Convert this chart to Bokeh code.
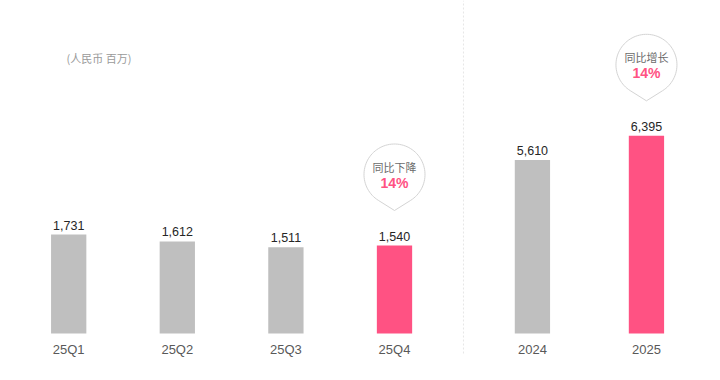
import numpy as np
from bokeh.plotting import figure
from bokeh.models import Range1d, Label
from bokeh.core.properties import value
from bokeh.embed import file_html
from bokeh.resources import INLINE

# ---------------- data ----------------
quarters = ["25Q1", "25Q2", "25Q3", "25Q4"]
quarter_values = [1731, 1612, 1511, 1540]
years = ["2024", "2025"]
year_values = [5610, 6395]
highlight = ["25Q4", "2025"]
callout_titles = {"25Q4": "同比下降", "2025": "同比增长"}
callout_values = {"25Q4": "14%", "2025": "14%"}
unit_label = "(人民币 百万)"

# ---------------- style / layout ----------------
GRAY = "#bfbfbf"
PINK = "#ff5283"
W, H = 704, 364
PX_X = 108.6          # pixels per x unit
X0 = -0.628           # left edge of x range
QY = 17.5             # quarter values per pixel
AY = 32.35            # annual values per pixel
BASE = 31             # pixels from bottom of frame to bar base
BAR_W = 0.325
NUM_FONT = value("Liberation Sans")
CJK_FONT = value("Noto Sans CJK SC")

p = figure(width=W, height=H, output_backend="svg", toolbar_location=None,
           x_range=Range1d(X0, X0 + W / PX_X),
           y_range=Range1d(-BASE * QY, (H - BASE) * QY),
           x_axis_type=None, y_axis_type=None, min_border=0)
p.extra_y_ranges = {"annual": Range1d(-BASE * AY, (H - BASE) * AY)}
p.outline_line_color = None
p.background_fill_color = "white"
p.border_fill_color = "white"
p.grid.visible = False

q_x = list(range(len(quarters)))
a_x = [4.27, 5.32]

def colors(cats):
    return [PINK if c in highlight else GRAY for c in cats]

# bars
p.vbar(x=q_x, top=quarter_values, bottom=0, width=BAR_W, color=colors(quarters), line_color=None)
p.vbar(x=a_x, top=year_values, bottom=0, width=BAR_W, color=colors(years), line_color=None,
       y_range_name="annual")

# value labels
p.text(x=q_x, y=quarter_values, text=[f"{v:,}" for v in quarter_values],
       text_align="center", text_baseline="bottom", y_offset=-5,
       text_font=NUM_FONT, text_font_size="12.5px", text_color="#262626")
p.text(x=a_x, y=year_values, text=[f"{v:,}" for v in year_values],
       text_align="center", text_baseline="bottom", y_offset=-5,
       text_font=NUM_FONT, text_font_size="12.5px", text_color="#262626",
       y_range_name="annual")

# category labels
p.text(x=q_x, y=[0] * len(q_x), text=quarters, text_align="center", text_baseline="middle",
       y_offset=16, text_font=NUM_FONT, text_font_size="13px", text_color="#595959")
p.text(x=a_x, y=[0] * len(a_x), text=years, text_align="center", text_baseline="middle",
       y_offset=16, text_font=NUM_FONT, text_font_size="13px", text_color="#595959")

# divider
xm = (q_x[-1] + a_x[0]) / 2
p.segment(x0=[xm], y0=[-20 * QY], x1=[xm], y1=[(H - BASE) * QY],
          line_color="#e6e6e6", line_width=1, line_dash="2 2")

# callouts (teardrop bubbles)
R, D, CUP = 30.5, 36.0, 71.0
phi = np.arccos(R / D)
ang = np.linspace(-np.pi / 2 + phi, 3 * np.pi / 2 - phi, 80)
shape_x = np.concatenate([R * np.cos(ang), [0.0]])
shape_y = np.concatenate([R * np.sin(ang), [-D]])

def callout(xc, top, scale, cat, rng):
    cy = top + CUP * scale
    kw = {} if rng is None else {"y_range_name": rng}
    p.patch(x=xc + shape_x / PX_X, y=cy + shape_y * scale, fill_color="white",
            line_color="#d4d4d4", line_width=1, **kw)
    p.text(x=[xc], y=[cy], text=[callout_titles[cat]], text_align="center",
           text_baseline="middle", y_offset=-8, text_font=CJK_FONT,
           text_font_size="11px", text_color="#6b6b6b", **kw)
    p.text(x=[xc], y=[cy], text=[callout_values[cat]], text_align="center",
           text_baseline="middle", y_offset=8, text_font=NUM_FONT,
           text_font_size="14px", text_font_style="bold", text_color=PINK, **kw)

for c, xv, v in zip(quarters, q_x, quarter_values):
    if c in callout_titles:
        callout(xv, v, QY, c, None)
for c, xv, v in zip(years, a_x, year_values):
    if c in callout_titles:
        callout(xv, v, AY, c, "annual")

# unit label
p.add_layout(Label(x=66, y=H - 57, x_units="screen", y_units="screen", text=unit_label,
                   text_font="Noto Sans CJK SC", text_font_size="11px", text_color="#9a9a9a",
                   text_baseline="middle"))

open("out.html", "w").write(file_html(p, INLINE))
